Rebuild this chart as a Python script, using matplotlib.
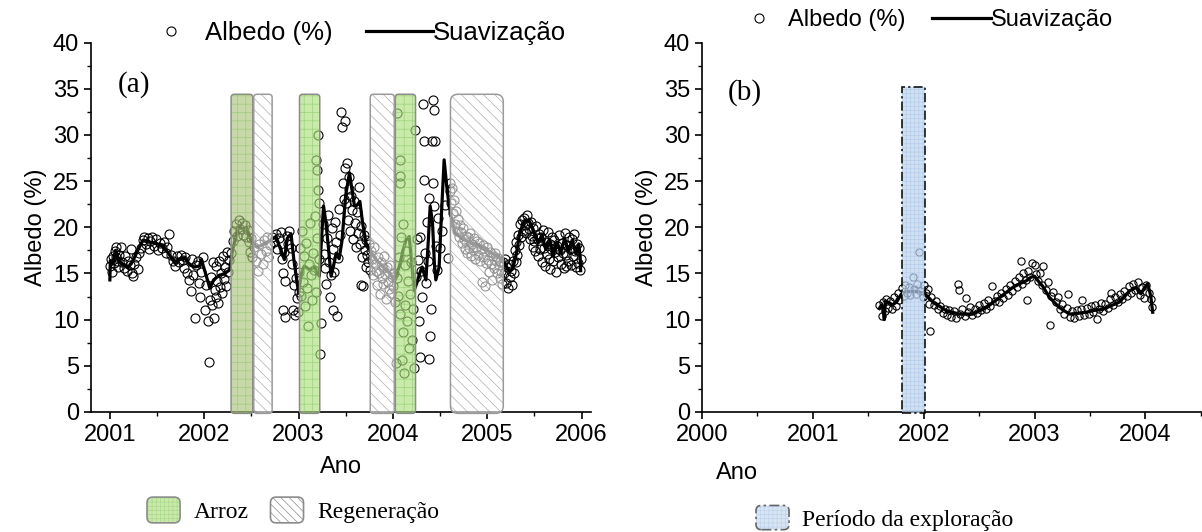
import numpy as np
import matplotlib
matplotlib.use('Agg')
import matplotlib.pyplot as plt
from matplotlib.patches import FancyBboxPatch, Patch
from matplotlib.lines import Line2D
from matplotlib.legend_handler import HandlerBase
from matplotlib.ticker import MultipleLocator

plt.rcParams['font.family'] = ['Liberation Sans', 'DejaVu Sans']
plt.rcParams['font.size'] = 17
plt.rcParams['hatch.linewidth'] = 0.5

# ---------------- site (a): albedo samples (year, %) ----------------
pts_a = [
    (2001.00, 15.8), (2001.01, 16.6), (2001.02, 15.2), (2001.03, 16.9), (2001.04, 16.1), (2001.05, 17.4),
    (2001.06, 16.8), (2001.07, 17.9), (2001.08, 16.3), (2001.09, 15.7), (2001.10, 17.0), (2001.12, 17.9),
    (2001.13, 16.2), (2001.15, 15.6), (2001.16, 16.9), (2001.18, 15.3), (2001.19, 16.4), (2001.21, 15.9),
    (2001.22, 17.6), (2001.23, 15.1), (2001.25, 14.7), (2001.26, 16.0), (2001.28, 16.8), (2001.30, 15.5),
    (2001.31, 17.2), (2001.33, 17.8), (2001.35, 18.6), (2001.36, 18.9), (2001.38, 18.2), (2001.40, 18.8),
    (2001.41, 17.6), (2001.43, 18.5), (2001.45, 18.9), (2001.47, 18.0), (2001.49, 18.7), (2001.51, 17.5),
    (2001.53, 18.3), (2001.55, 17.8), (2001.57, 18.4), (2001.59, 17.2), (2001.61, 17.9), (2001.63, 19.3),
    (2001.65, 17.0), (2001.67, 16.4), (2001.69, 15.8), (2001.71, 16.9), (2001.73, 16.2), (2001.75, 17.0),
    (2001.77, 16.5), (2001.79, 15.6), (2001.80, 16.8), (2001.82, 15.0), (2001.84, 14.3), (2001.855, 13.1),
    (2001.87, 16.6), (2001.88, 14.8), (2001.90, 10.2), (2001.91, 15.9), (2001.93, 16.4), (2001.94, 14.0),
    (2001.96, 12.5), (2001.97, 15.2), (2001.99, 16.8), (2002.01, 11.0), (2002.02, 13.8), (2002.04, 9.9),
    (2002.05, 5.4), (2002.06, 12.1), (2002.07, 14.6), (2002.08, 11.6), (2002.09, 16.2), (2002.10, 10.2),
    (2002.11, 13.2), (2002.12, 12.4), (2002.13, 15.8), (2002.14, 14.2), (2002.15, 11.8), (2002.16, 16.4),
    (2002.17, 13.5), (2002.18, 15.0), (2002.19, 12.9), (2002.20, 16.9), (2002.21, 14.4), (2002.22, 15.7),
    (2002.23, 13.6), (2002.24, 17.3), (2002.25, 15.2), (2002.26, 16.5),
    (2002.28, 17.2), (2002.30, 18.5), (2002.32, 19.6), (2002.34, 20.4), (2002.35, 19.1), (2002.37, 20.8),
    (2002.38, 19.8), (2002.40, 20.5), (2002.41, 19.2), (2002.43, 20.2), (2002.44, 18.9), (2002.46, 19.7),
    (2002.47, 18.4), (2002.49, 17.3), (2002.50, 18.8), (2002.51, 16.8), (2002.53, 17.9), (2002.55, 16.4),
    (2002.57, 15.3), (2002.58, 18.2), (2002.60, 17.1), (2002.62, 16.0), (2002.63, 18.6), (2002.65, 17.4),
    (2002.67, 18.9), (2002.68, 16.8), (2002.70, 18.1), (2002.72, 19.0), (2002.74, 18.4), (2002.76, 19.3),
    (2002.77, 17.6), (2002.79, 18.8), (2002.81, 19.5), (2002.82, 16.6), (2002.836, 11.0), (2002.84, 15.1),
    (2002.85, 17.3), (2002.853, 10.3), (2002.86, 14.2), (2002.88, 19.1), (2002.89, 18.2), (2002.90, 19.6),
    (2002.92, 17.8), (2002.93, 16.0), (2002.94, 11.0), (2002.95, 13.8), (2002.96, 10.5), (2002.97, 14.5),
    (2002.98, 12.3), (2002.99, 10.8), (2003.00, 13.0),
    (2003.01, 15.2), (2003.02, 17.8), (2003.03, 12.6), (2003.04, 19.6), (2003.05, 14.1), (2003.06, 16.9),
    (2003.07, 11.5), (2003.08, 18.3), (2003.09, 13.4), (2003.10, 9.3), (2003.11, 16.0), (2003.12, 20.5),
    (2003.13, 14.8), (2003.14, 12.1), (2003.15, 17.2), (2003.16, 15.4), (2003.17, 21.2), (2003.18, 13.0),
    (2003.19, 27.3), (2003.195, 18.8), (2003.20, 26.2), (2003.205, 24.0), (2003.21, 30.0), (2003.215, 16.6),
    (2003.22, 22.6), (2003.23, 6.3), (2003.235, 9.6),
    (2003.26, 20.4), (2003.27, 17.1), (2003.28, 15.6), (2003.29, 13.9), (2003.30, 18.8), (2003.31, 21.3),
    (2003.32, 16.2), (2003.33, 12.5), (2003.34, 14.8), (2003.35, 19.9), (2003.36, 11.0), (2003.37, 17.6),
    (2003.38, 15.2), (2003.39, 20.6), (2003.40, 18.4), (2003.41, 10.4), (2003.42, 16.7), (2003.43, 22.0),
    (2003.44, 19.2), (2003.45, 32.5), (2003.46, 30.9), (2003.47, 24.8), (2003.48, 23.1), (2003.497, 31.5),
    (2003.49, 26.4), (2003.50, 22.6), (2003.51, 27.0), (2003.52, 20.8), (2003.53, 25.4), (2003.54, 24.1),
    (2003.55, 19.6), (2003.56, 23.4), (2003.57, 21.9), (2003.58, 18.7), (2003.59, 22.8), (2003.60, 20.5),
    (2003.61, 17.9), (2003.62, 21.6), (2003.63, 19.4), (2003.64, 24.4), (2003.65, 18.2), (2003.66, 13.8),
    (2003.665, 20.1), (2003.67, 16.8), (2003.68, 13.6), (2003.69, 19.2), (2003.70, 17.5), (2003.71, 15.7),
    (2003.72, 18.6),
    (2003.73, 17.0), (2003.74, 16.2), (2003.75, 18.2), (2003.76, 15.4), (2003.77, 17.4), (2003.78, 16.6),
    (2003.79, 14.8), (2003.80, 17.9), (2003.81, 16.0), (2003.82, 15.3), (2003.83, 13.7), (2003.84, 16.8),
    (2003.85, 15.0), (2003.86, 12.8), (2003.87, 16.2), (2003.88, 14.5), (2003.89, 15.6), (2003.90, 13.9),
    (2003.91, 16.9), (2003.92, 14.9), (2003.93, 12.2), (2003.94, 15.7), (2003.95, 14.1), (2003.96, 13.3),
    (2003.97, 15.9), (2003.98, 12.9), (2003.99, 14.6), (2004.00, 13.6), (2004.01, 15.1), (2004.02, 11.9),
    (2004.035, 5.3), (2004.04, 32.4), (2004.045, 14.5), (2004.05, 12.6), (2004.06, 16.8), (2004.07, 25.5),
    (2004.072, 24.8), (2004.075, 27.3), (2004.08, 10.6), (2004.09, 18.9), (2004.10, 5.6), (2004.105, 20.3),
    (2004.11, 8.7), (2004.12, 4.2), (2004.125, 11.6), (2004.13, 15.9), (2004.14, 17.4), (2004.15, 9.9),
    (2004.16, 14.2), (2004.17, 6.9), (2004.18, 12.8), (2004.19, 16.2), (2004.20, 7.8), (2004.21, 11.2),
    (2004.22, 4.8), (2004.23, 30.5),
    (2004.25, 14.6), (2004.26, 18.7), (2004.27, 16.5), (2004.28, 9.9), (2004.285, 6.0), (2004.29, 19.0),
    (2004.30, 15.3), (2004.31, 12.4), (2004.32, 33.3), (2004.325, 29.3), (2004.33, 25.1), (2004.34, 17.2),
    (2004.35, 14.0), (2004.36, 20.6), (2004.37, 16.4), (2004.38, 5.7), (2004.385, 23.2), (2004.39, 8.2),
    (2004.40, 11.1), (2004.41, 29.3), (2004.42, 33.8), (2004.43, 24.8), (2004.435, 22.3), (2004.44, 32.7),
    (2004.45, 29.3), (2004.46, 18.0), (2004.47, 15.4), (2004.48, 21.0), (2004.50, 17.8), (2004.52, 19.6),
    (2004.55, 22.4), (2004.58, 16.7),
    (2004.60, 24.8), (2004.61, 23.9), (2004.62, 22.6), (2004.63, 24.3), (2004.64, 21.5), (2004.65, 22.9),
    (2004.66, 20.4), (2004.67, 21.8), (2004.68, 19.6), (2004.69, 20.9), (2004.70, 18.9), (2004.71, 20.2),
    (2004.72, 19.5), (2004.73, 18.3), (2004.74, 19.9), (2004.75, 18.7), (2004.76, 17.6), (2004.77, 19.1),
    (2004.78, 18.4), (2004.79, 17.2), (2004.80, 18.9), (2004.81, 17.8), (2004.82, 19.4), (2004.83, 16.9),
    (2004.84, 18.2), (2004.85, 17.5), (2004.86, 18.8), (2004.87, 16.6), (2004.88, 17.9), (2004.89, 18.5),
    (2004.90, 17.0), (2004.91, 18.3), (2004.92, 16.4), (2004.93, 17.7), (2004.94, 14.1), (2004.95, 18.1),
    (2004.96, 16.8), (2004.97, 17.4), (2004.98, 13.6), (2004.99, 16.1), (2005.00, 17.9), (2005.01, 16.5),
    (2005.02, 15.2), (2005.03, 17.3), (2005.04, 16.0), (2005.05, 14.3), (2005.06, 16.9), (2005.07, 15.6),
    (2005.08, 17.2), (2005.09, 16.3), (2005.10, 15.0), (2005.11, 16.7), (2005.12, 15.9), (2005.13, 14.5),
    (2005.14, 16.4), (2005.15, 15.3), (2005.16, 13.9), (2005.17, 16.2),
    (2005.18, 15.0), (2005.19, 16.6), (2005.20, 14.0), (2005.21, 15.7), (2005.22, 13.4), (2005.23, 16.0),
    (2005.24, 14.6), (2005.25, 15.3), (2005.26, 13.8), (2005.27, 16.4), (2005.28, 15.1), (2005.29, 17.5),
    (2005.30, 16.2), (2005.31, 18.4), (2005.32, 17.0), (2005.33, 19.2), (2005.34, 18.1), (2005.35, 20.3),
    (2005.36, 19.0), (2005.37, 20.8), (2005.38, 19.6), (2005.39, 21.0), (2005.40, 20.2), (2005.41, 19.4),
    (2005.42, 21.3), (2005.43, 20.5), (2005.44, 19.8), (2005.45, 18.7), (2005.46, 20.6), (2005.47, 19.1),
    (2005.48, 17.9), (2005.49, 19.9), (2005.50, 18.5), (2005.51, 17.4), (2005.52, 20.1), (2005.53, 18.8),
    (2005.54, 16.9), (2005.55, 19.3), (2005.56, 17.6), (2005.57, 18.9), (2005.58, 16.2), (2005.59, 19.7),
    (2005.60, 17.8), (2005.61, 15.8), (2005.62, 18.4), (2005.63, 17.1), (2005.64, 19.5), (2005.65, 16.6),
    (2005.66, 18.2), (2005.67, 15.5), (2005.68, 17.7), (2005.69, 19.0), (2005.70, 16.3), (2005.71, 18.6),
    (2005.72, 17.3), (2005.73, 15.2), (2005.74, 18.0), (2005.75, 16.8), (2005.76, 19.2), (2005.77, 17.5),
    (2005.78, 16.0), (2005.79, 18.3), (2005.80, 17.2), (2005.81, 15.6), (2005.82, 19.4), (2005.83, 17.0),
    (2005.84, 15.8), (2005.85, 18.1), (2005.86, 16.4), (2005.87, 19.0), (2005.88, 17.6), (2005.89, 15.9),
    (2005.90, 18.7), (2005.91, 16.9), (2005.92, 19.3), (2005.93, 17.4), (2005.94, 15.7), (2005.95, 18.2),
    (2005.96, 16.1), (2005.97, 17.8), (2005.98, 15.4), (2005.99, 16.6),
]

# smoothed curve for site (a)
smooth_a = [
    (2001.00, 14.3), (2001.005, 16.4), (2001.03, 16.0), (2001.06, 17.5), (2001.10, 16.3), (2001.15, 15.9),
    (2001.19, 15.6), (2001.25, 16.5), (2001.30, 17.6), (2001.35, 18.6), (2001.42, 18.4), (2001.50, 18.2),
    (2001.55, 18.1), (2001.62, 17.2), (2001.69, 16.1), (2001.75, 16.6), (2001.79, 16.7), (2001.85, 15.9),
    (2001.90, 15.7), (2001.95, 15.8), (2001.97, 16.5), (2002.02, 14.8), (2002.06, 13.4), (2002.10, 14.3),
    (2002.16, 14.8), (2002.22, 15.0), (2002.27, 15.4), (2002.30, 17.5), (2002.36, 20.0), (2002.41, 19.8),
    (2002.45, 19.9), (2002.50, 18.5), (2002.55, 17.9), (2002.60, 18.0), (2002.65, 18.3), (2002.70, 18.6),
    (2002.76, 19.0), (2002.81, 17.6), (2002.85, 16.5), (2002.88, 18.8), (2002.92, 19.3), (2002.95, 16.5),
    (2003.00, 12.9), (2003.03, 15.0), (2003.06, 15.8), (2003.12, 15.4), (2003.17, 15.7), (2003.22, 14.7),
    (2003.245, 19.0), (2003.265, 22.3), (2003.29, 20.5), (2003.31, 18.5), (2003.345, 14.7), (2003.37, 15.8),
    (2003.40, 17.2), (2003.43, 16.6), (2003.46, 18.5), (2003.50, 23.5), (2003.54, 25.9), (2003.57, 23.8),
    (2003.593, 22.3), (2003.62, 22.4), (2003.65, 22.8), (2003.68, 20.4), (2003.715, 18.3), (2003.77, 17.3),
    (2003.82, 16.5), (2003.87, 16.0), (2003.926, 15.4), (2003.97, 15.0), (2004.014, 14.3), (2004.067, 15.7),
    (2004.11, 17.6), (2004.138, 18.6), (2004.173, 19.0), (2004.20, 16.0), (2004.226, 13.2), (2004.255, 14.0),
    (2004.28, 14.9), (2004.31, 15.7), (2004.35, 14.3), (2004.375, 18.5), (2004.395, 22.3), (2004.42, 20.5),
    (2004.44, 16.0), (2004.455, 14.3), (2004.49, 15.7), (2004.515, 21.5), (2004.543, 27.3), (2004.57, 24.5),
    (2004.596, 22.3), (2004.63, 20.6), (2004.66, 19.4), (2004.72, 18.9), (2004.77, 18.6), (2004.86, 18.2),
    (2004.95, 17.9), (2005.03, 17.3), (2005.12, 16.8), (2005.18, 16.1), (2005.24, 15.2), (2005.27, 15.5),
    (2005.31, 17.2), (2005.345, 19.4), (2005.40, 20.8), (2005.45, 20.6), (2005.50, 19.3), (2005.54, 18.3),
    (2005.58, 19.2), (2005.62, 17.6), (2005.66, 18.7), (2005.70, 17.0), (2005.74, 18.4), (2005.78, 17.2),
    (2005.82, 18.8), (2005.86, 17.4), (2005.90, 18.6), (2005.94, 17.1), (2005.97, 18.2), (2005.985, 16.8),
    (2005.99, 15.3),
]

# rice and regeneration periods at site (a): (start, end)
rice_spans = [(2002.285, 2002.515), (2003.01, 2003.225), (2004.025, 2004.24)]
rice_faces = ['#adc47a', '#addf7f', '#addf7f']
regen_spans = [(2002.525, 2002.72), (2003.76, 2004.015), (2004.61, 2005.17)]
regen_round = [0.035, 0.035, 0.08]
box_top_a = 34.4

# ---------------- site (b) ----------------
pts_b = [
    (2001.60, 11.6), (2001.62, 10.4), (2001.63, 11.9), (2001.65, 10.9), (2001.66, 12.2), (2001.68, 11.3),
    (2001.70, 12.0), (2001.71, 11.1), (2001.73, 12.4), (2001.75, 11.5), (2001.77, 12.9), (2001.78, 12.1),
    (2001.80, 13.4), (2001.82, 12.6), (2001.83, 13.8), (2001.85, 12.9), (2001.87, 13.5), (2001.88, 12.7),
    (2001.90, 14.6), (2001.91, 13.3), (2001.93, 12.8), (2001.94, 13.9), (2001.96, 17.3), (2001.97, 13.1),
    (2001.99, 12.4), (2002.00, 13.7), (2002.02, 12.9), (2002.04, 13.3), (2002.05, 11.7), (2002.056, 8.8),
    (2002.07, 12.5), (2002.09, 11.6), (2002.11, 12.0), (2002.13, 11.1), (2002.15, 11.5), (2002.17, 10.7),
    (2002.19, 11.2), (2002.21, 10.5), (2002.23, 11.0), (2002.25, 10.3), (2002.27, 10.9), (2002.29, 10.2),
    (2002.31, 13.9), (2002.32, 13.2), (2002.33, 10.6), (2002.35, 11.1), (2002.37, 10.4), (2002.38, 12.3),
    (2002.40, 10.8), (2002.42, 11.4), (2002.44, 10.5), (2002.46, 11.2), (2002.48, 10.7), (2002.50, 11.6),
    (2002.52, 11.0), (2002.54, 11.8), (2002.56, 11.2), (2002.58, 12.1), (2002.60, 11.5), (2002.62, 13.6),
    (2002.64, 12.0), (2002.66, 12.6), (2002.68, 11.9), (2002.70, 12.9), (2002.72, 12.3), (2002.74, 13.3),
    (2002.76, 12.7), (2002.78, 13.8), (2002.80, 13.1), (2002.82, 14.2), (2002.84, 13.5), (2002.86, 14.6),
    (2002.88, 16.4), (2002.89, 13.9), (2002.90, 15.0), (2002.92, 14.3), (2002.93, 12.1), (2002.94, 15.3),
    (2002.96, 14.6), (2002.98, 16.1), (2003.00, 15.9), (2003.01, 14.9), (2003.03, 14.2), (2003.05, 15.0),
    (2003.07, 13.7), (2003.08, 15.8), (2003.10, 13.2), (2003.12, 14.1), (2003.14, 9.4), (2003.15, 12.6),
    (2003.17, 13.0), (2003.19, 11.9), (2003.21, 12.4), (2003.23, 11.2), (2003.25, 11.7), (2003.27, 10.6),
    (2003.29, 11.3), (2003.30, 12.8), (2003.32, 10.3), (2003.34, 10.9), (2003.36, 10.2), (2003.38, 11.0),
    (2003.40, 10.4), (2003.42, 11.2), (2003.43, 12.1), (2003.45, 10.5), (2003.47, 11.3), (2003.49, 10.6),
    (2003.51, 11.5), (2003.53, 10.8), (2003.55, 11.6), (2003.56, 10.1), (2003.58, 11.2), (2003.60, 11.8),
    (2003.62, 10.9), (2003.64, 11.7), (2003.66, 11.3), (2003.68, 12.2), (2003.69, 12.9), (2003.71, 11.6),
    (2003.73, 12.5), (2003.75, 11.9), (2003.77, 12.8), (2003.79, 12.2), (2003.81, 13.1), (2003.83, 12.6),
    (2003.85, 13.6), (2003.87, 12.9), (2003.89, 13.9), (2003.91, 13.2), (2003.93, 14.1), (2003.95, 12.7),
    (2003.97, 13.5), (2003.99, 12.3), (2004.01, 13.8), (2004.03, 12.9), (2004.05, 12.2), (2004.06, 11.4),
]

smooth_b = [
    (2001.60, 11.2), (2001.62, 11.6), (2001.635, 11.0), (2001.645, 10.0), (2001.655, 12.0), (2001.68, 11.9),
    (2001.72, 11.6), (2001.755, 11.9), (2001.80, 12.8), (2001.85, 13.0), (2001.904, 13.1), (2001.96, 13.0),
    (2002.01, 12.8), (2002.085, 11.9), (2002.20, 11.0), (2002.32, 10.6), (2002.444, 10.6), (2002.565, 11.3),
    (2002.685, 12.4), (2002.805, 13.5), (2002.87, 13.9), (2002.925, 14.2), (2002.97, 14.6), (2003.00, 14.7),
    (2003.045, 14.0), (2003.075, 13.6), (2003.135, 12.4), (2003.225, 11.3), (2003.315, 10.6), (2003.40, 10.7),
    (2003.465, 10.8), (2003.54, 11.0), (2003.615, 11.1), (2003.69, 11.5), (2003.765, 11.9), (2003.82, 12.6),
    (2003.856, 13.1), (2003.916, 13.5), (2003.94, 13.0), (2003.96, 12.8), (2003.99, 13.4), (2004.02, 13.9),
    (2004.04, 13.0), (2004.05, 12.4), (2004.066, 10.8),
]

expl_span = (2001.80, 2002.01)
box_top_b = 35.2

yr_a, alb_a = np.array(pts_a).T
sx_a, sy_a = np.array(smooth_a).T
yr_b, alb_b = np.array(pts_b).T
sx_b, sy_b = np.array(smooth_b).T

# px per year / px per % -> keeps the rounded corners circular
aspect_a = (1 / 9.25) / (1 / 94.3)
aspect_b = (1 / 9.25) / (1 / 111.0)


def round_box(ax, x0, x1, top, face, hatch, hatch_col, edge, rsize, aspect, alpha=0.65, ls='-', boxstyle='round'):
    style = f'round,pad=0,rounding_size={rsize}' if boxstyle == 'round' else 'square,pad=0'
    fill = FancyBboxPatch((x0, -0.15), x1 - x0, top + 0.15, boxstyle=style, mutation_aspect=aspect,
                          facecolor=face, edgecolor=hatch_col, hatch=hatch, lw=0, alpha=alpha,
                          zorder=4, clip_on=False)
    outline = FancyBboxPatch((x0, -0.15), x1 - x0, top + 0.15, boxstyle=style, mutation_aspect=aspect,
                             fill=False, edgecolor=edge, lw=1.1, ls=ls, zorder=5, clip_on=False)
    ax.add_patch(fill)
    ax.add_patch(outline)


class RoundBoxHandler(HandlerBase):
    def __init__(self, face, hatch, hatch_col, edge, ls='-'):
        super().__init__()
        self.face, self.hatch, self.hatch_col, self.edge, self.ls = face, hatch, hatch_col, edge, ls

    def create_artists(self, legend, orig_handle, xdescent, ydescent, width, height, fontsize, trans):
        r = 0.22 * height
        kw = dict(boxstyle=f'round,pad=0,rounding_size={r}', transform=trans)
        fill = FancyBboxPatch((-xdescent, -ydescent), width, height, facecolor=self.face,
                              edgecolor=self.hatch_col, hatch=self.hatch, lw=0, **kw)
        edge = FancyBboxPatch((-xdescent, -ydescent), width, height, fill=False,
                              edgecolor=self.edge, lw=1.2, ls=self.ls, **kw)
        return [fill, edge]


fig = plt.figure(figsize=(12.02, 5.32), dpi=100)
ax1 = fig.add_axes([0.0757, 0.2256, 0.416, 0.6944])
ax2 = fig.add_axes([0.584, 0.2256, 0.415, 0.6944])

# panel (a)
ax1.plot(yr_a, alb_a, 'o', mfc='none', mec='black', ms=6.5, mew=0.8, zorder=2)
ax1.plot(sx_a, sy_a, '-', color='black', lw=2.3, zorder=3)
for (x0, x1), fc in zip(rice_spans, rice_faces):
    round_box(ax1, x0, x1, box_top_a, fc, '++', '#86c663', '#8c8c8c', 0.035, aspect_a)
for (x0, x1), rs in zip(regen_spans, regen_round):
    round_box(ax1, x0, x1, box_top_a, 'white', '\\\\\\', '#7a7a7a', '#9a9a9a', rs, aspect_a, alpha=0.6)

ax1.set_xlim(2000.8, 2006.1)
ax1.set_xticks([2001, 2002, 2003, 2004, 2005, 2006])
ax1.xaxis.set_minor_locator(MultipleLocator(0.5))
ax1.text(0.054, 35.5, '(a)', transform=ax1.get_yaxis_transform(), family='Liberation Serif',
         fontsize=21, va='center', ha='left')

# panel (b)
ax2.plot(yr_b, alb_b, 'o', mfc='none', mec='black', ms=5.2, mew=0.8, zorder=2)
ax2.plot(sx_b, sy_b, '-', color='black', lw=2.3, zorder=3)
round_box(ax2, expl_span[0], expl_span[1], box_top_b, '#bcd3ec', '++++', '#a9c6e8', 'black',
          0.0, aspect_b, alpha=0.7, ls=(0, (6, 2, 1.5, 2)), boxstyle='square')
ax2.set_xlim(2000, 2004.5)
ax2.set_xticks([2000, 2001, 2002, 2003, 2004])
ax2.xaxis.set_minor_locator(MultipleLocator(0.5))
ax2.text(0.052, 34.6, '(b)', transform=ax2.get_yaxis_transform(), family='Liberation Serif',
         fontsize=21, va='center', ha='left')

for ax in (ax1, ax2):
    ax.set_ylim(0, 40)
    ax.yaxis.set_major_locator(MultipleLocator(5))
    ax.yaxis.set_minor_locator(MultipleLocator(2.5))
    ax.spines['top'].set_visible(False)
    ax.spines['right'].set_visible(False)
    for s in ('left', 'bottom'):
        ax.spines[s].set_linewidth(1.2)
    ax.tick_params(which='major', length=5, width=1.2, labelsize=17)
    ax.tick_params(which='minor', length=3, width=1.0)
    ax.set_ylabel('Albedo (%)', fontsize=17, labelpad=4)
    ax.set_xlabel('Ano', fontsize=17, labelpad=7)

ax2.xaxis.set_label_coords(0.07, -0.135)

# top legends
leg_handles = [Line2D([], [], ls='none', marker='o', mfc='none', mec='black', ms=6.5, mew=0.8),
               Line2D([], [], color='black', lw=2.3)]
leg_labels = ['Albedo (%)', 'Suavização']
fig.legend(leg_handles, leg_labels, ncol=2, loc='center left', bbox_to_anchor=(138 / 1202, 1 - 33 / 532),
           frameon=False, fontsize=18.5, handlelength=2.6, handletextpad=0.0, columnspacing=1.3,
           borderpad=0, borderaxespad=0)
fig.legend(leg_handles, leg_labels, ncol=2, loc='center left', bbox_to_anchor=(729 / 1202, 1 - 20 / 532),
           frameon=False, fontsize=17, handlelength=2.5, handletextpad=0.0, columnspacing=1.1,
           borderpad=0, borderaxespad=0)

# bottom legends
rice_h, regen_h, expl_h = Patch(), Patch(), Patch()
fig.legend([rice_h, regen_h], ['Arroz', 'Regeneração'], ncol=2, loc='center left',
           bbox_to_anchor=(147 / 1202, 1 - 510 / 532), frameon=False,
           prop={'family': 'Liberation Serif', 'size': 17},
           handlelength=1.4, handleheight=1.3, handletextpad=0.6, columnspacing=0.9,
           borderpad=0, borderaxespad=0,
           handler_map={rice_h: RoundBoxHandler('#cbe9ad', '++++', '#a9d98a', '#8c8c8c'),
                        regen_h: RoundBoxHandler('white', '\\\\\\\\', '#8a8a8a', '#8c8c8c')})
fig.legend([expl_h], ['Período da exploração'], loc='center left',
           bbox_to_anchor=(756 / 1202, 1 - 518 / 532), frameon=False,
           prop={'family': 'Liberation Serif', 'size': 17},
           handlelength=1.4, handleheight=1.2, handletextpad=0.55,
           borderpad=0, borderaxespad=0,
           handler_map={expl_h: RoundBoxHandler('#d8e5f3', '++++', '#bfd3ec', '#666666', ls=(0, (6, 2, 1.5, 2)))})

fig.savefig('out.png', dpi=100)
